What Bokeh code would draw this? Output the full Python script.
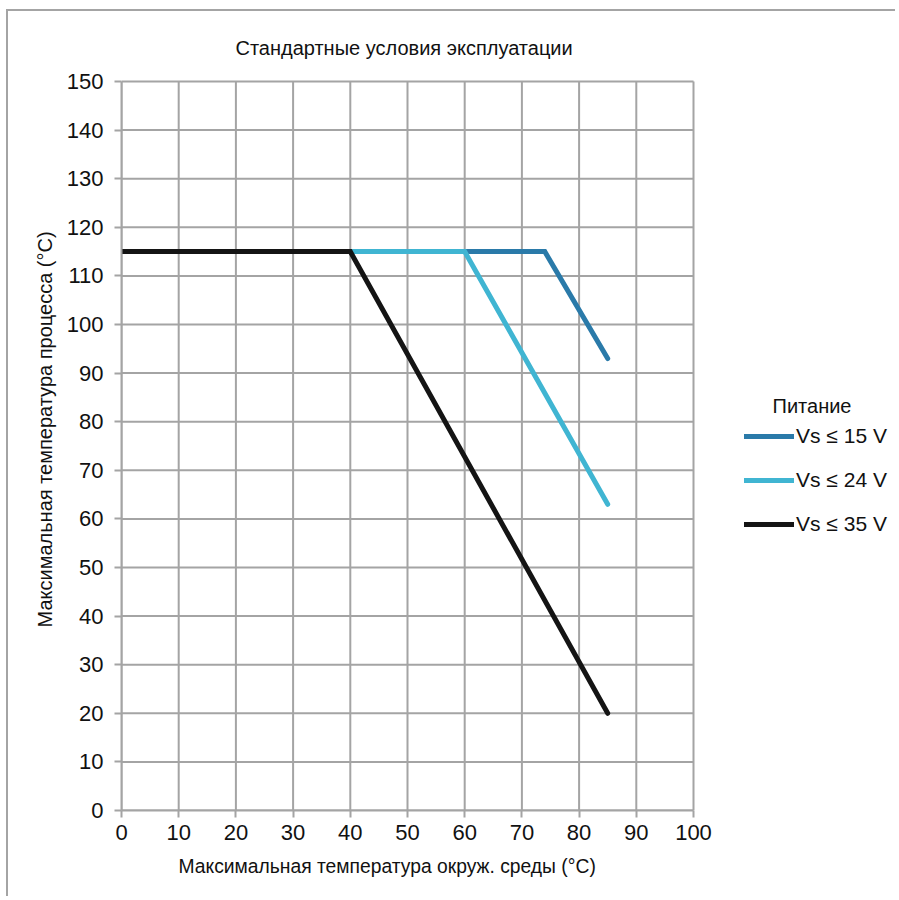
from bokeh.plotting import figure
from bokeh.models import Legend, LegendItem, Label, FixedTicker, Range1d, Title
from bokeh.embed import file_html
from bokeh.resources import INLINE

# Data
x15 = [0, 74, 85]
y15 = [115, 115, 93]
x24 = [0, 60, 85]
y24 = [115, 115, 63]
x35 = [0, 40, 85]
y35 = [115, 115, 20]
labels = ["Vs ≤ 15 V", "Vs ≤ 24 V", "Vs ≤ 35 V"]
legend_title = "Питание"
chart_title = "Стандартные условия эксплуатации"
x_title = "Максимальная температура окруж. среды (°C)"
y_title = "Максимальная температура процесса  (°C)"
colors = ["#2a7aa9", "#40b5d2", "#141414"]
x_ticks = list(range(0, 101, 10))
y_ticks = list(range(0, 151, 10))

FONT = "Liberation Sans"
GRID = "#a4a4a4"
TXT = "#111111"

# layout (pixels)
W, H = 889, 887
BL, BB = 113, 88
frame_w = W - BL
frame_h = H - BB
px_per_x = 572 / 100.0
px_per_y = 729 / 150.0
x_max = frame_w / px_per_x
y_max = frame_h / px_per_y

p = figure(width=W, height=H, output_backend="svg", toolbar_location=None,
           x_range=Range1d(0, x_max), y_range=Range1d(0, y_max),
           min_border_left=BL, min_border_right=0, min_border_top=0, min_border_bottom=BB)
p.styles = {"margin-left": "6px", "margin-top": "9px",
            "border-left": "2px solid #a4a4a4", "border-top": "2px solid #a4a4a4"}

p.outline_line_color = None
p.background_fill_color = "white"
p.border_fill_color = "white"
p.grid.visible = False

# grid lines limited to the data area
p.segment(x0=x_ticks, y0=[0] * len(x_ticks), x1=x_ticks, y1=[150] * len(x_ticks),
          line_color=GRID, line_width=2)
p.segment(x0=[0] * len(y_ticks), y0=y_ticks, x1=[100] * len(y_ticks), y1=y_ticks,
          line_color=GRID, line_width=2)

for ax in (p.xaxis, p.yaxis):
    ax.axis_line_color = GRID
    ax.axis_line_width = 2
    ax.major_tick_line_color = GRID
    ax.major_tick_line_width = 2
    ax.major_tick_out = 7
    ax.major_tick_in = 0
    ax.minor_tick_line_color = None
    ax.major_label_text_font = FONT
    ax.major_label_text_font_size = "22px"
    ax.major_label_text_color = TXT

p.xaxis.bounds = (0, 100)
p.yaxis.bounds = (0, 150)
p.xaxis.ticker = FixedTicker(ticks=x_ticks)
p.yaxis.ticker = FixedTicker(ticks=y_ticks)
p.xaxis.major_label_standoff = 7
p.yaxis.major_label_standoff = 11

# axis titles, aligned to the data area rather than the whole frame
xt = Title(text=x_title, align="left", offset=57, standoff=22,
           text_font=FONT, text_font_size="19.3px", text_font_style="normal", text_color=TXT)
p.add_layout(xt, "below")
yt = Title(text=y_title, align="left", offset=183, standoff=16,
           text_font=FONT, text_font_size="20px", text_font_style="normal", text_color=TXT)
p.add_layout(yt, "left")

r15 = p.line(x15, y15, line_color=colors[0], line_width=5, line_cap="round", line_join="miter")
r24 = p.line(x24, y24, line_color=colors[1], line_width=5, line_cap="round", line_join="miter")
r35 = p.line(x35, y35, line_color=colors[2], line_width=5, line_cap="round", line_join="miter")

legend = Legend(items=[LegendItem(label=labels[0], renderers=[r15]),
                       LegendItem(label=labels[1], renderers=[r24]),
                       LegendItem(label=labels[2], renderers=[r35])],
                location=(623, 274), padding=0, margin=0, spacing=20,
                glyph_width=50, glyph_height=20, label_height=20, label_standoff=2,
                border_line_color=None, background_fill_alpha=0)
legend.label_text_font = FONT
legend.label_text_font_size = "21px"
legend.label_text_color = TXT
p.add_layout(legend, "center")

p.add_layout(Label(x=(812 - 121.5) / px_per_x, y=(810 - 405) / px_per_y, text=legend_title,
                   text_align="center", text_baseline="middle",
                   text_font=FONT, text_font_size="20px", text_color=TXT))
p.add_layout(Label(x=49.4, y=(810 - 47) / px_per_y, text=chart_title,
                   text_align="center", text_baseline="middle",
                   text_font=FONT, text_font_size="20px", text_color=TXT))

open("out.html", "w").write(file_html(p, INLINE))
